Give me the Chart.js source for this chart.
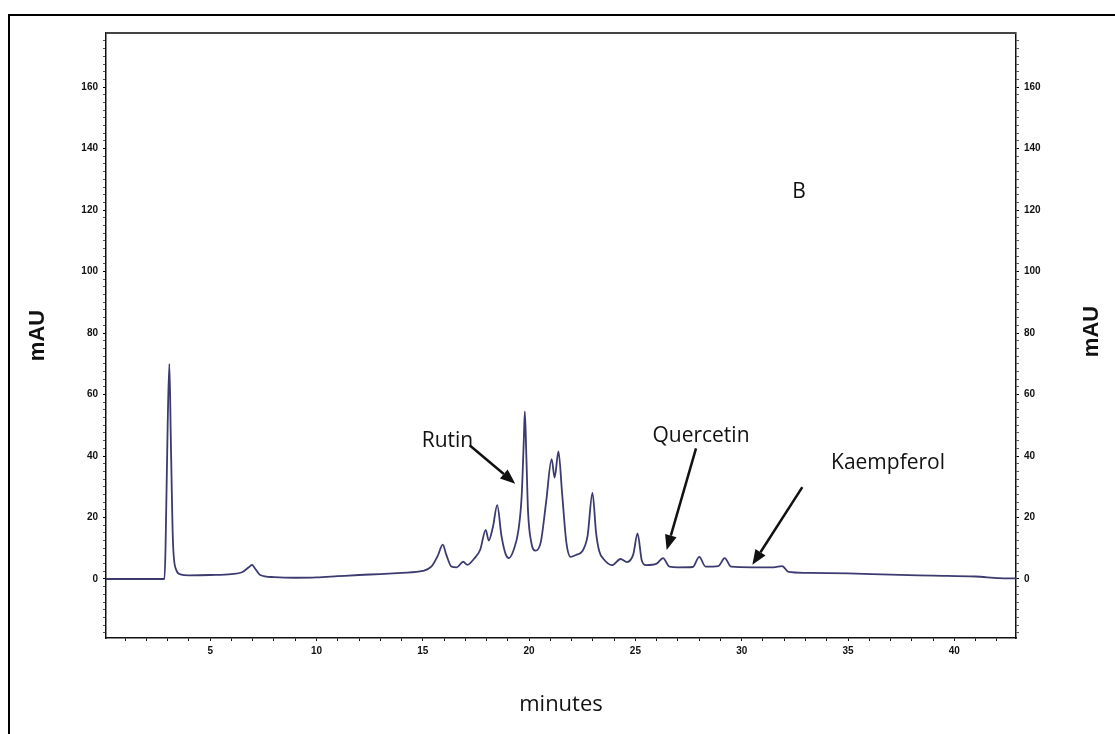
<!DOCTYPE html>
<html>
<head>
<meta charset="utf-8">
<script src="https://cdn.jsdelivr.net/npm/chart.js@4/dist/chart.umd.min.js"></script>
<style>
    html, body { margin: 0; padding: 0; background: #ffffff; }
    /* Contenedor del gráfico: ocupa toda la ventana */
    #contenedor { position: relative; width: 1115px; height: 734px; overflow: hidden; }
    /* Marco exterior negro (solo se ven el borde izquierdo y el superior) */
    #marco { position: absolute; left: 8px; top: 14px; width: 1200px; height: 800px;
             border-left: 2px solid #000; border-top: 2px solid #000; }
    #grafico { position: absolute; left: 0; top: 0; }
</style>
</head>
<body>
<div id="contenedor">
    <div id="marco"></div>
    <canvas id="grafico" width="1115" height="734"></canvas>
</div>
<script>
/* ── DATOS DEL CROMATOGRAMA ──
 Tiempo de retención (minutos) y absorbancia (mAU). */
var tiempos = [
    0.1, 2.85, 2.9, 3.0, 3.08, 3.15, 3.25, 3.4, 3.6, 4.0,
    5.0, 6.0, 6.5, 6.85, 6.97, 7.1, 7.35, 8.0, 9.0, 10.0,
    11.0, 12.0, 13.0, 14.0, 15.0, 15.4, 15.7, 15.94, 16.1, 16.35,
    16.6, 16.9, 17.1, 17.4, 17.7, 17.96, 18.1, 18.3, 18.5, 18.7,
    18.9, 19.05, 19.3, 19.5, 19.65, 19.75, 19.8, 19.87, 19.95, 20.1,
    20.3, 20.55, 20.8, 21.06, 21.2, 21.38, 21.55, 21.75, 21.95, 22.2,
    22.5, 22.75, 22.98, 23.15, 23.3, 23.5, 23.9, 24.3, 24.6, 24.9,
    25.1, 25.3, 25.5, 26.0, 26.3, 26.6, 27.0, 27.7, 28.0, 28.3,
    28.9, 29.2, 29.5, 30.5, 31.5, 31.9, 32.2, 33.0, 35.0, 37.0,
    39.0, 41.0, 42.1, 42.9
];
var absorbancia = [
    0, 0, 10, 50, 70, 45, 12, 3, 1.5, 1.2,
    1.3, 1.6, 2.2, 4, 4.6, 3.5, 1.3, 0.6, 0.4, 0.5,
    0.9, 1.3, 1.6, 2.0, 2.6, 4, 7.5, 11.2, 8, 4,
    3.8, 5.6, 4.6, 6.5, 9.5, 16, 12.5, 17, 24, 14,
    8, 6.8, 10, 16, 27, 45, 54.5, 40, 22, 12,
    9.2, 12, 25, 39, 33, 41.5, 28, 12, 7.2, 7.8,
    9, 14, 28, 15, 9, 6.5, 4.5, 6.5, 5.5, 8,
    14.8, 6, 4.5, 5, 6.8, 4, 3.8, 3.9, 7.2, 4,
    4.2, 6.8, 4, 3.8, 3.8, 4.2, 2.3, 2.0, 1.8, 1.4,
    1.1, 0.8, 0.3, 0.2
];

/* Etiquetas de los ejes */
var etiquetasX = [5, 10, 15, 20, 25, 30, 35, 40];
var etiquetasY = [0, 20, 40, 60, 80, 100, 120, 140, 160];

/* Marcas pequeñas de los ejes (cada minuto y cada 2.5 mAU) */
var marcasX = [];
for (var m = 1; m <= 42; m++) { marcasX.push(m); }
var marcasY = [];
for (var v = -17.5; v <= 175; v += 2.5) { marcasY.push(v); }

/* Compuestos señalados: texto, posición del texto y flecha (en minutos / mAU) */
var compuestos = ['Rutin', 'Quercetin', 'Kaempferol'];
var textoTiempo = [14.95, 25.8, 34.2];
var textoValor = [45, 46.5, 37.7];
var flechaDesde = [[17.2, 43.5], [27.85, 42.5], [32.85, 29.9]];
var flechaHasta = [[19.35, 31], [26.47, 9.4], [30.5, 4.6]];

/* ── PLUGIN: anotaciones ──
 Dibuja el borde superior del área, las flechas, los nombres de los
 compuestos, la letra "B" y el título del eje derecho. */
var anotaciones = {
    id: 'anotaciones',
    afterDatasetsDraw: function (chart) {
        var ctx = chart.ctx;
        var area = chart.chartArea;
        var x = chart.scales.x;
        var y = chart.scales.y;

        ctx.save();
        /* Borde superior del área del gráfico */
        ctx.strokeStyle = '#444';
        ctx.lineWidth = 2;
        ctx.beginPath();
        ctx.moveTo(area.left, area.top);
        ctx.lineTo(area.right, area.top);
        ctx.stroke();

        /* Flechas y nombres */
        ctx.fillStyle = '#111';
        ctx.strokeStyle = '#111';
        ctx.font = '21px "Open Sans", sans-serif';
        ctx.textAlign = 'left';
        ctx.textBaseline = 'middle';
        for (var i = 0; i < compuestos.length; i++) {
            ctx.fillText(compuestos[i], x.getPixelForValue(textoTiempo[i]), y.getPixelForValue(textoValor[i]));

            var x1 = x.getPixelForValue(flechaDesde[i][0]);
            var y1 = y.getPixelForValue(flechaDesde[i][1]);
            var x2 = x.getPixelForValue(flechaHasta[i][0]);
            var y2 = y.getPixelForValue(flechaHasta[i][1]);
            var ang = Math.atan2(y2 - y1, x2 - x1);
            var largo = 15;
            /* Línea de la flecha (termina donde empieza la punta) */
            ctx.lineWidth = 2.5;
            ctx.beginPath();
            ctx.moveTo(x1, y1);
            ctx.lineTo(x2 - largo * Math.cos(ang), y2 - largo * Math.sin(ang));
            ctx.stroke();
            /* Punta de la flecha */
            ctx.beginPath();
            ctx.moveTo(x2, y2);
            ctx.lineTo(x2 - largo * Math.cos(ang) + 6 * Math.sin(ang), y2 - largo * Math.sin(ang) - 6 * Math.cos(ang));
            ctx.lineTo(x2 - largo * Math.cos(ang) - 6 * Math.sin(ang), y2 - largo * Math.sin(ang) + 6 * Math.cos(ang));
            ctx.closePath();
            ctx.fill();
        }

        /* Letra del panel */
        ctx.font = '21px "Open Sans", sans-serif';
        ctx.textAlign = 'center';
        ctx.fillText('B', x.getPixelForValue(32.7), y.getPixelForValue(126));

        /* Título del eje derecho, girado igual que el izquierdo */
        ctx.translate(chart.width - 23, (area.top + area.bottom) / 2 - 4);
        ctx.rotate(-Math.PI / 2);
        ctx.font = 'bold 22px "Liberation Sans", Arial, sans-serif';
        ctx.fillText('mAU', 0, 0);
        ctx.restore();
    }
};

/* Opciones comunes de los ejes verticales */
function ejeVertical(posicion, ancho) {
    return {
        type: 'linear',
        position: posicion,
        min: -19.2,
        max: 177.6,
        afterFit: function (escala) { escala.width = ancho; },
        afterBuildTicks: function (escala) {
            escala.ticks = marcasY.map(function (valor) { return { value: valor }; });
        },
        grid: {
            drawOnChartArea: false,
            tickLength: 3,
            tickColor: function (c) { return c.tick.value % 20 === 0 ? '#000' : '#555'; }
        },
        border: { display: true, color: '#111', width: 1.5 },
        ticks: {
            autoSkip: false,
            padding: 5,
            color: '#111',
            font: { family: '"Liberation Sans", Arial, sans-serif', size: 10, weight: 'bold' },
            callback: function (valor) { return etiquetasY.indexOf(valor) >= 0 ? valor : ''; }
        }
    };
}

function crearCromatograma() {
    var canvas = document.getElementById('grafico');
    var puntos = tiempos.map(function (t, i) { return { x: t, y: absorbancia[i] }; });

    var ejeIzq = ejeVertical('left', 106);
    ejeIzq.title = {
        display: true,
        text: 'mAU',
        color: '#111',
        padding: { top: 25, bottom: 0 },
        font: { family: '"Liberation Sans", Arial, sans-serif', size: 22, weight: 'bold' }
    };
    var ejeDer = ejeVertical('right', 99);

    new Chart(canvas, {
        type: 'line',
        data: {
            datasets: [{
                label: 'mAU',
                data: puntos,
                borderColor: '#3b3b70',
                borderWidth: 1.8,
                pointRadius: 0,
                fill: false,
                cubicInterpolationMode: 'monotone'
            }]
        },
        options: {
            responsive: false,
            animation: false,
            layout: { padding: { top: 33, left: 0, right: 0, bottom: 0 } },
            plugins: {
                legend: { display: false },
                tooltip: { enabled: false }
            },
            scales: {
                x: {
                    type: 'linear',
                    min: 0.1,
                    max: 42.9,
                    afterFit: function (escala) { escala.height = 96; },
                    afterBuildTicks: function (escala) {
                        escala.ticks = marcasX.map(function (valor) { return { value: valor }; });
                    },
                    grid: { drawOnChartArea: false, tickLength: 3, tickColor: '#111' },
                    border: { display: true, color: '#111', width: 1.5 },
                    ticks: {
                        autoSkip: false,
                        maxRotation: 0,
                        padding: 4,
                        color: '#111',
                        font: { family: '"Liberation Sans", Arial, sans-serif', size: 10, weight: 'bold' },
                        callback: function (valor) { return etiquetasX.indexOf(valor) >= 0 ? valor : ''; }
                    },
                    title: {
                        display: true,
                        text: 'minutes',
                        color: '#111',
                        padding: { top: 0, bottom: 16 },
                        font: { family: '"Open Sans", sans-serif', size: 22 }
                    }
                },
                y: ejeIzq,
                y2: ejeDer
            }
        },
        plugins: [anotaciones]
    });
}

crearCromatograma();
</script>
</body>
</html>
